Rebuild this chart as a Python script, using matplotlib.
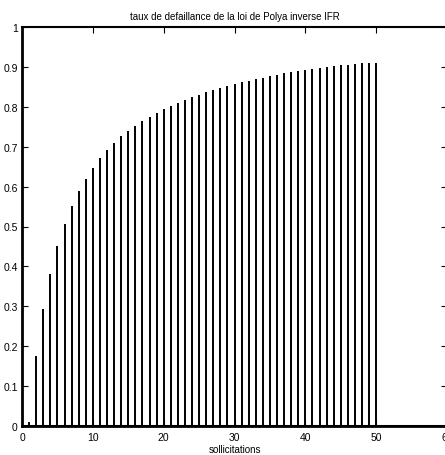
import numpy as np
import matplotlib
matplotlib.use("Agg")
import matplotlib.pyplot as plt

plt.rcParams['font.family'] = ['Liberation Sans', 'DejaVu Sans']

# sollicitations and failure rate
sollicitations = np.arange(1, 51)
taux = [0.010, 0.175, 0.293, 0.381, 0.450, 0.506, 0.551, 0.588, 0.620, 0.647,
        0.671, 0.691, 0.709, 0.726, 0.740, 0.753, 0.765, 0.775, 0.785, 0.794,
        0.803, 0.810, 0.817, 0.824, 0.830, 0.836, 0.842, 0.847, 0.852, 0.857,
        0.861, 0.865, 0.869, 0.873, 0.877, 0.880, 0.884, 0.887, 0.890, 0.893,
        0.895, 0.898, 0.900, 0.902, 0.904, 0.906, 0.907, 0.909, 0.910, 0.911]
xticks = [0, 10, 20, 30, 40, 50, 60]
yticks = [0, 0.1, 0.2, 0.3, 0.4, 0.5, 0.6, 0.7, 0.8, 0.9, 1]

fig = plt.figure(figsize=(4.45, 4.56), dpi=100)
ax = fig.add_axes([22 / 445, 29 / 456, 425 / 445, 399 / 456])

ax.vlines(sollicitations, 0, taux, color='black', linewidth=1.4)
ax.axhline(0, color='black', linewidth=2.2)

ax.set_xlim(0, 60)
ax.set_ylim(0, 1)
ax.set_xticks(xticks)
ax.set_yticks(yticks)
ax.set_xticklabels([str(t) for t in xticks])
ax.set_yticklabels(['0', '0.1', '0.2', '0.3', '0.4', '0.5', '0.6', '0.7', '0.8', '0.9', '1'])
ax.tick_params(direction='in', length=4, width=0.8, labelsize=7.5, pad=3,
               top=True, right=True)
ax.tick_params(axis='x', pad=4)
for side in ['left', 'bottom']:
    ax.spines[side].set_linewidth(2)
for side in ['top', 'right']:
    ax.spines[side].set_linewidth(1.5)

ax.set_title('taux de defaillance de la loi de Polya inverse IFR', fontsize=7, pad=6)
ax.set_xlabel('sollicitations', fontsize=7, labelpad=2)

fig.savefig('out.png', dpi=100)
